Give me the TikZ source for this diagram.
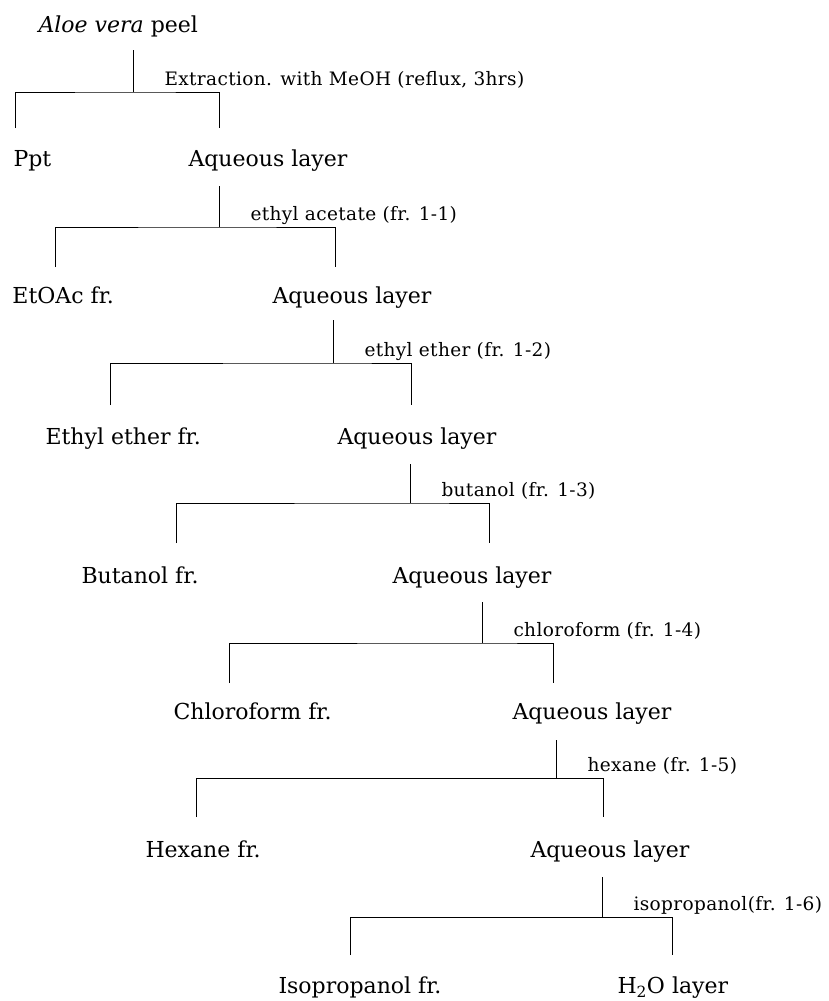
\documentclass[tikz,border=0pt]{standalone}
\usepackage{fontspec}
\setmainfont{DejaVu Serif}
\newfontfamily\solvfont[LetterSpace=2]{DejaVu Serif}
\usepackage{tikz}
\usetikzlibrary{calc,positioning}
\tikzset{
  frac/.style={anchor=base west,inner sep=0pt,font=\fontsize{22}{26}\selectfont},
  solv/.style={anchor=base west,inner sep=0pt,font=\solvfont\fontsize{18.5}{22}\selectfont}
}

\begin{document}
\begin{tikzpicture}[x=1pt,y=-1pt,line width=1pt]
  \useasboundingbox (0,0) rectangle (828,1001);
  % fractions
  \node[frac] (peel) at (38,32) {\textit{Aloe vera} peel};
  \node[frac] (ppt)  at (13,166) {Ppt};
  \node[frac] (aq1)  at (188,166) {Aqueous layer};
  \node[frac] (etoac) at (12,303) {EtOAc fr.};
  \node[frac] (aq2)  at (272,303) {Aqueous layer};
  \node[frac] (ether) at (45,444) {Ethyl ether fr.};
  \node[frac] (aq3)  at (337,444) {Aqueous layer};
  \node[frac] (buoh) at (81,583) {Butanol fr.};
  \node[frac] (aq4)  at (392,583) {Aqueous layer};
  \node[frac] (chcl) at (173,719) {Chloroform fr.};
  \node[frac] (aq5)  at (512,719) {Aqueous layer};
  \node[frac] (hex)  at (145,857) {Hexane fr.};
  \node[frac] (aq6)  at (530,857) {Aqueous layer};
  \node[frac] (ipa)  at (278,993) {Isopropanol fr.};
  \node[frac] (water) at (617,993) {H\textsubscript{2}O layer};
  % partition steps: stem x / top / bar / left x / right x / foot
  \foreach \n/\sx/\ty/\by/\lx/\rx/\fy/\lab in {
      0/133/50/92/15/219/128/{Extraction. with MeOH (reflux, 3hrs)},
      1/219/186/227/55/335/267/{ethyl acetate (fr. 1-1)},
      2/333/320/363/110/411/405/{ethyl ether (fr. 1-2)},
      3/410/464/503/176/489/543/{butanol (fr. 1-3)},
      4/482/602/643/229/553/683/{chloroform (fr. 1-4)},
      5/556/740/778/196/603/817/{hexane (fr. 1-5)},
      6/602/877/917/350/672/955/{isopropanol(fr. 1-6)}}{
    \coordinate (top\n) at (\sx,\ty);
    \coordinate (jn\n) at (\sx,\by);
    \coordinate (lf\n) at (\lx,\fy);
    \coordinate (rt\n) at (\rx,\fy);
    \draw (top\n) -- (jn\n);
    \draw (lf\n) |- (jn\n) -| (rt\n);
    \node[solv] (lab\n) at ($(jn\n)+(31,-7)$) {\lab};
  }
\end{tikzpicture}
\end{document}
